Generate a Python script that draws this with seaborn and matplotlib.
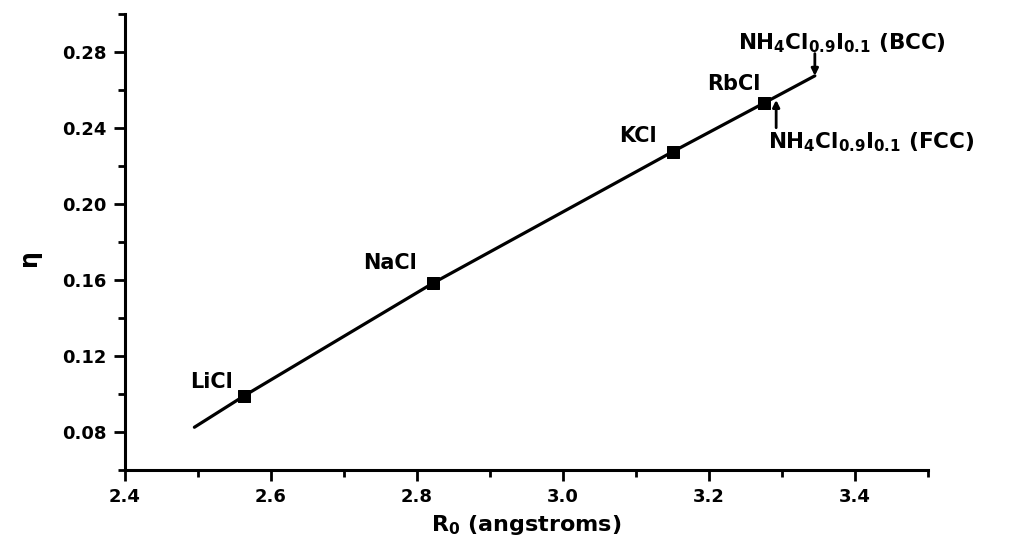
import matplotlib
matplotlib.use("Agg")
import matplotlib.pyplot as plt
from matplotlib.ticker import MultipleLocator, FormatStrFormatter
import seaborn as sns

# Alkali chlorides: ionic distance R0 vs. eta
compounds = ["LiCl", "NaCl", "KCl", "RbCl"]
r0 = [2.563, 2.822, 3.150, 3.276]
eta = [0.099, 0.1584, 0.2275, 0.2533]

# Smooth trend through the chlorides, extended to the alloy
curve_r0 = [2.495, 2.563, 2.822, 3.150, 3.276, 3.345]
curve_eta = [0.0825, 0.099, 0.1584, 0.2275, 0.2533, 0.2675]

# NH4Cl0.9I0.1 in its two phases
alloy_labels = [r"NH$_4$Cl$_{0.9}$I$_{0.1}$ (FCC)", r"NH$_4$Cl$_{0.9}$I$_{0.1}$ (BCC)"]
alloy_r0 = [3.292, 3.345]
alloy_eta = [0.2548, 0.2675]

x_ticks = [2.4, 2.6, 2.8, 3.0, 3.2, 3.4]
y_ticks = [0.08, 0.12, 0.16, 0.20, 0.24, 0.28]

sns.set_theme(style="ticks")
plt.rcParams.update({
    "font.family": ["DejaVu Sans"],
    "font.weight": "bold",
    "mathtext.fontset": "dejavusans",
    "mathtext.default": "bf",
    "axes.linewidth": 2.2,
    "text.color": "black",
    "axes.labelcolor": "black",
    "xtick.color": "black",
    "ytick.color": "black",
})

fig = plt.figure(figsize=(10.1, 5.46), dpi=100)
ax = fig.add_axes([0.1238, 0.1392, 0.795, 0.835])

sns.lineplot(x=curve_r0, y=curve_eta, color="black", lw=2.3, sort=False,
             estimator=None, ax=ax)
sns.scatterplot(x=r0, y=eta, marker="s", s=80, color="black",
                edgecolor="black", ax=ax, zorder=3)

label_offsets = {"LiCl": (-8, 3), "NaCl": (-12, 7), "KCl": (-11, 4), "RbCl": (-3, 6)}
for name, x, y in zip(compounds, r0, eta):
    ax.annotate(name, xy=(x, y), xytext=label_offsets[name], textcoords="offset points",
                ha="right", va="bottom", fontsize=15, fontweight="bold", color="black")

# FCC: arrow points up to the curve, label below
ax.annotate("", xy=(alloy_r0[0], alloy_eta[0]), xytext=(0, -20), textcoords="offset points",
            arrowprops=dict(arrowstyle="-|>", color="black", lw=2, mutation_scale=10,
                            shrinkA=0, shrinkB=0))
ax.annotate(alloy_labels[0], xy=(alloy_r0[0], alloy_eta[0]), xytext=(-6, -22),
            textcoords="offset points", ha="left", va="top", fontsize=15.5,
            fontweight="bold", color="black")

# BCC: arrow points down to the end of the curve, label above
ax.annotate("", xy=(alloy_r0[1], alloy_eta[1]), xytext=(0, 16), textcoords="offset points",
            arrowprops=dict(arrowstyle="-|>", color="black", lw=2, mutation_scale=10,
                            shrinkA=0, shrinkB=0))
ax.annotate(alloy_labels[1], xy=(alloy_r0[1], alloy_eta[1]), xytext=(-55, 15),
            textcoords="offset points", ha="left", va="bottom", fontsize=15.5,
            fontweight="bold", color="black")

ax.set_xlim(2.4, 3.5)
ax.set_ylim(0.06, 0.30)
ax.set_xticks(x_ticks)
ax.set_yticks(y_ticks)
ax.xaxis.set_minor_locator(MultipleLocator(0.1))
ax.yaxis.set_minor_locator(MultipleLocator(0.02))
ax.xaxis.set_major_formatter(FormatStrFormatter("%.1f"))
ax.yaxis.set_major_formatter(FormatStrFormatter("%.2f"))
ax.tick_params(axis="both", which="major", length=8, width=2, labelsize=13, pad=5,
               color="black", labelcolor="black")
ax.tick_params(axis="both", which="minor", length=5, width=2, color="black")
for lab in ax.get_xticklabels() + ax.get_yticklabels():
    lab.set_fontweight("bold")

sns.despine(ax=ax)
for side in ("left", "bottom"):
    ax.spines[side].set_color("black")

ax.set_xlabel(r"R$_0$ (angstroms)", fontsize=16, fontweight="bold", color="black")
ax.set_ylabel(r"$\eta$", fontsize=17, fontweight="bold", color="black")
ax.xaxis.set_label_coords(0.5, -0.095)
ax.yaxis.set_label_coords(-0.10, 0.46)

fig.savefig("out.png", dpi=100, facecolor="white")
